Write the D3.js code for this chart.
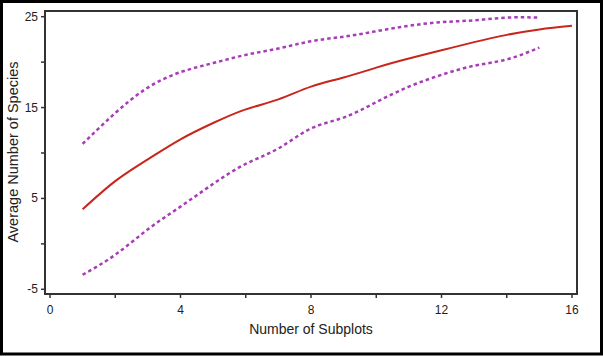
<!DOCTYPE html>
<html><head><meta charset="utf-8">
<script src="https://cdn.jsdelivr.net/npm/d3@7"></script>
<style>body{margin:0;background:#fff}svg{display:block}text{font-family:"Liberation Sans",Arial,sans-serif;fill:#222}</style>
</head><body><svg id="c" width="603" height="356"></svg>
<script>
const subplots = [1,2,3,4,5,6,7,8,9,10,11,12,13,14,15,16];
const meanSpecies = [3.8,6.9,9.3,11.5,13.3,14.8,15.9,17.3,18.3,19.4,20.4,21.3,22.2,23.0,23.6,24.0];
const boundSubplots = [1,2,3,4,5,6,7,8,9,10,11,12,13,14,15];
const upperBound = [11.0,14.4,17.2,18.9,19.9,20.8,21.5,22.3,22.8,23.4,24.0,24.4,24.6,24.9,24.9];
const lowerBound = [-3.4,-1.2,1.6,4.1,6.6,8.8,10.5,12.7,13.9,15.6,17.3,18.6,19.6,20.3,21.6];
const xTicks = [0,2,4,6,8,10,12,14,16];
const xLabels = [0,4,8,12,16];
const yTicks = [-5,0,5,10,15,20,25];
const yLabels = [-5,5,15,25];

const svg = d3.select("#c");
// outer frame
svg.append("rect").attr("x",1.5).attr("y",1.5).attr("width",600).attr("height",352.5)
  .attr("fill","#fff").attr("stroke","#000").attr("stroke-width",3);

const x = d3.scaleLinear().domain([0,16]).range([50,572]);
const y = d3.scaleLinear().domain([-5,25]).range([289.3,16.7]);
const box = {l:45,t:11,r:577,b:294};

// x ticks
const gx = svg.append("g");
gx.selectAll("line").data(xTicks).join("line")
  .attr("x1",d=>x(d)).attr("x2",d=>x(d)).attr("y1",box.b).attr("y2",box.b+4)
  .attr("stroke","#333").attr("stroke-width",1.5);
gx.selectAll("text").data(xLabels).join("text")
  .attr("x",d=>x(d)).attr("y",box.b+20).attr("text-anchor","middle")
  .attr("font-size",12).text(d=>d);
// y ticks
const gy = svg.append("g");
gy.selectAll("line").data(yTicks).join("line")
  .attr("x1",box.l-4).attr("x2",box.l).attr("y1",d=>y(d)).attr("y2",d=>y(d))
  .attr("stroke","#333").attr("stroke-width",1.5);
gy.selectAll("text").data(yLabels).join("text")
  .attr("x",box.l-7).attr("y",d=>y(d)+4).attr("text-anchor","end")
  .attr("font-size",12).text(d=>d);

// box
svg.append("rect").attr("x",box.l).attr("y",box.t).attr("width",box.r-box.l).attr("height",box.b-box.t)
  .attr("fill","none").attr("stroke","#333").attr("stroke-width",2);

// titles
svg.append("text").attr("x",311).attr("y",334).attr("text-anchor","middle").attr("font-size",14)
  .text("Number of Subplots");
svg.append("text").attr("transform","translate(18,152) rotate(-90)").attr("text-anchor","middle")
  .attr("font-size",14.5).text("Average Number of Species");

const line = d3.line().x(d=>x(d[0])).y(d=>y(d[1])).curve(d3.curveNatural);
svg.append("path").datum(boundSubplots.map((s,i)=>[s,upperBound[i]]))
  .attr("d",line).attr("fill","none").attr("stroke","#a83cb8").attr("stroke-width",2.5)
  .attr("stroke-dasharray","3.5,3");
svg.append("path").datum(boundSubplots.map((s,i)=>[s,lowerBound[i]]))
  .attr("d",line).attr("fill","none").attr("stroke","#a83cb8").attr("stroke-width",2.5)
  .attr("stroke-dasharray","3.5,3");
svg.append("path").datum(subplots.map((s,i)=>[s,meanSpecies[i]]))
  .attr("d",line).attr("fill","none").attr("stroke","#c8261c").attr("stroke-width",2);
</script></body></html>
